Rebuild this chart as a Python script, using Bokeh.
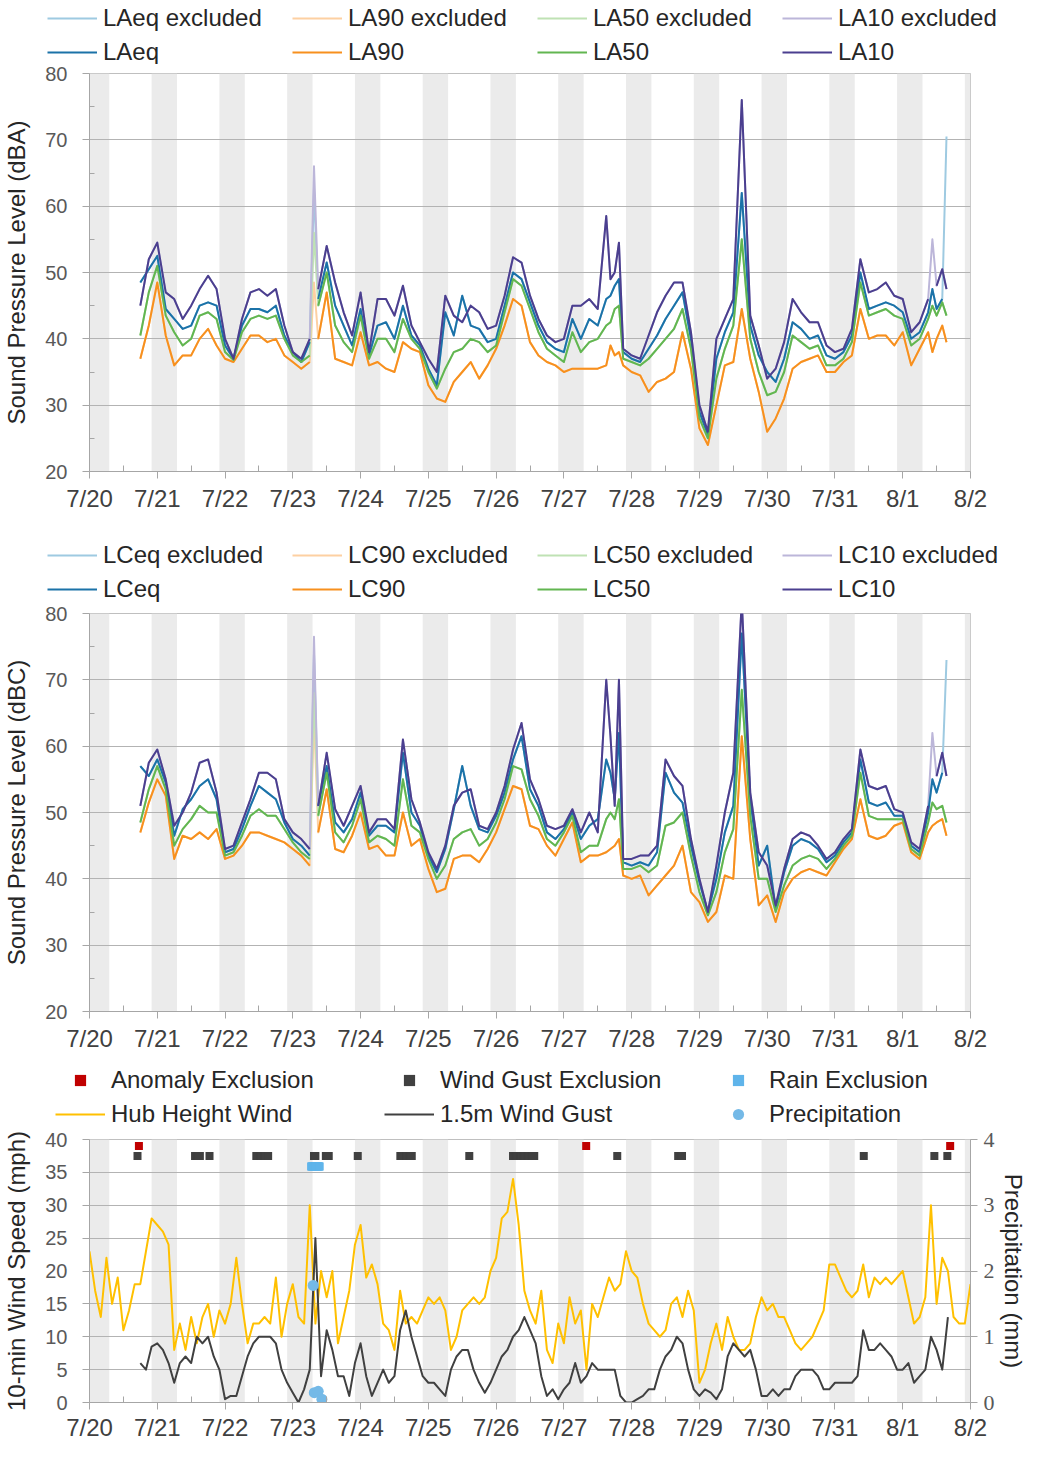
import numpy as np
from bokeh.plotting import figure
from bokeh.models import Range1d, LinearAxis, FixedTicker, Legend, LegendItem
from bokeh.layouts import column, row
from bokeh.embed import file_html
from bokeh.resources import INLINE

nan = float("nan")

# ---------------- time axis (hours since 7/20 00:00) ----------------
day_ticks = list(range(0, 313, 24))
day_labels = ["7/20", "7/21", "7/22", "7/23", "7/24", "7/25", "7/26",
              "7/27", "7/28", "7/29", "7/30", "7/31", "8/1", "8/2"]
night_start = [0, 22, 46, 70, 94, 118, 142, 166, 190, 214, 238, 262, 286, 310]
night_end = [7, 31, 55, 79, 103, 127, 151, 175, 199, 223, 247, 271, 295, 312]

# ---------------- sound level data ----------------
noise_hours = [18, 21,
               24, 27, 30, 33, 36, 39, 42, 45,
               48, 51, 54, 57, 60, 63, 66, 69,
               72, 75, 78, 79.5, 81, 84, 87, 90, 93,
               96, 99, 102, 105, 108, 111, 114, 117,
               120, 123, 126, 129, 132, 135, 138, 141,
               144, 147, 150, 153, 156, 159, 162, 165,
               168, 171, 174, 177, 180, 183, 184.5, 186, 187.5, 189,
               192, 195, 198, 201, 204, 207, 210, 213,
               216, 219, 222, 225, 228, 231, 234, 237,
               240, 243, 246, 249, 252, 255, 258, 261,
               264, 267, 270, 273, 276, 279, 282, 285,
               288, 291, 294, 297, 298.5, 300, 302, 303.5]

LAeq = [48.5, 50.5,
        52.5, 44.5, 43, 41.5, 42, 45, 45.5, 45,
        39, 37, 42, 44.5, 44.5, 44, 45, 40.5,
        38, 36.5, 39.5, 62.5, 46, 51.5, 45, 42, 39,
        44.5, 37.5, 42, 42.5, 40, 45, 40.5, 39,
        35.5, 33, 44, 40.5, 46.5, 42, 41.5, 39.5,
        40, 45, 50, 49, 45.5, 42, 39.5, 38.5,
        38, 43, 40, 43, 42, 46, 46.5, 48, 49, 38,
        37, 36.5, 38.5, 40.5, 43, 45, 47, 40,
        29, 25.5, 37, 41, 44, 62, 42, 37.5,
        35, 33.5, 37, 42.5, 41.5, 40, 40.5, 37.5,
        37, 38, 40.5, 50, 44.5, 45, 45.5, 45,
        44, 40, 41, 44, 47.5, 44.5, 46, 70.5]
LA90 = [37, 42,
        48.5, 40.5, 36, 37.5, 37.5, 40, 41.5, 39,
        37, 36.5, 38.5, 40.5, 40.5, 39.5, 40, 37.5,
        36.5, 35.5, 36.5, 48.5, 40, 47, 37, 36.5, 36,
        41, 36, 36.5, 35.5, 35, 39.5, 38.5, 38,
        33, 31, 30.5, 33.5, 35, 36.5, 34, 36,
        38.5, 42, 46, 45, 39.5, 37.5, 36.5, 36,
        35, 35.5, 35.5, 35.5, 35.5, 36, 39, 37.5, 38, 36,
        35, 34.5, 32, 33.5, 34, 35, 41, 35.5,
        26.5, 24, 30, 36, 36.5, 44.5, 37, 32,
        26, 28, 31, 35.5, 36.5, 37, 37.5, 35,
        35, 36.5, 37.5, 44.5, 40, 40.5, 40.5, 39,
        41, 36, 38.5, 41, 38, 40, 42, 39.5]
LA50 = [40.5, 47,
        51, 43.5, 41, 39, 40, 43.5, 44, 43,
        38, 36.8, 41, 43, 43.5, 43, 43.5, 40,
        37.5, 36.5, 37.5, 56, 45, 50, 42, 39.5, 38,
        43.5, 37, 40, 40, 38, 43, 40, 38.5,
        35, 32.5, 35.5, 38, 38.5, 40, 39.5, 38,
        39, 44, 49, 48, 44.5, 41, 38.5, 37.5,
        36.5, 41, 38, 39.5, 40, 42, 42.5, 44.5, 45, 37,
        36.5, 36, 37, 38.5, 40, 41.5, 44.5, 38.5,
        28, 25, 34, 38.5, 42, 55, 40, 35,
        31.5, 32, 35, 40.5, 39.5, 38.5, 39, 36,
        36, 37, 39.5, 48.5, 43.5, 44, 44.5, 43.5,
        43, 39, 40, 43, 45, 43.5, 45.5, 43.5]
LA10 = [45, 52,
        54.5, 47, 46, 43, 45, 47.5, 49.5, 47.5,
        40, 37, 43, 47, 47.5, 46.5, 47.5, 42,
        38, 37, 40, 66, 47.5, 54, 48.5, 44, 40.5,
        47, 38, 46, 46, 43.5, 48, 42, 39.5,
        37, 35, 46.5, 43.5, 42.5, 45, 44, 41.5,
        42, 46.5, 52.3, 51.5, 46.5, 43, 40.5, 39.5,
        40, 45, 45, 46, 44.5, 58.5, 49, 50, 54.5, 38.5,
        37.5, 37, 40.5, 44, 46.5, 48.5, 48.5, 41,
        30, 26, 40, 43, 46, 76, 43.5, 39,
        34, 35.5, 39.5, 46, 44, 42.5, 42.5, 39,
        38, 38.5, 41.5, 52, 47, 47.5, 48.5, 46.5,
        46, 41, 42.5, 46, 55, 48, 50.5, 47.5]

LCeq = [57, 55.5,
        58, 54.5, 46.5, 50.5, 52, 54, 55, 52,
        44, 44.5, 47.5, 51, 54, 53, 52, 48.5,
        46, 45, 43.5, 74, 51, 57, 48.5, 47, 49,
        53, 46.5, 48, 48, 47, 59, 50, 48,
        43.5, 41, 44.5, 50.5, 57, 51, 47.5, 47,
        49.5, 53, 58, 61.5, 53.5, 51, 47, 46,
        47.5, 50, 46, 48, 49, 58, 56, 52, 62, 42.5,
        42, 42.5, 42, 44, 56, 53, 51.5, 45,
        39.5, 35, 40, 47, 51, 77, 52, 42,
        45, 35.5, 41, 45, 46, 45.5, 44.5, 42.5,
        43.5, 45.5, 47, 58, 51.5, 51, 51.5, 49.5,
        49.5, 45, 44, 50, 55, 53, 56, 73]
LC90 = [47, 51.5,
        55, 52.5, 43, 46.5, 46, 47, 46, 47.5,
        43, 43.5, 45, 47, 47, 46.5, 46, 45.5,
        44.5, 43.5, 42, 64.5, 47, 53.5, 44.5, 44, 46.5,
        50, 44.5, 45, 43.5, 43.5, 50, 45, 46,
        41.5, 38, 38.5, 43, 43.5, 43.5, 42.5, 44.5,
        47, 50.5, 54, 53.5, 48, 47.5, 45, 43.5,
        46, 48.5, 42.5, 43.5, 43.5, 44, 44.5, 45, 46, 40.5,
        40, 40.5, 37.5, 39, 40.5, 42, 45, 38,
        36.5, 33.5, 35, 40.5, 40, 61.5, 46, 36,
        37.5, 33.5, 38, 40, 41, 41.5, 41, 40.5,
        42.5, 44.5, 46, 52, 46.5, 46, 46.5, 48,
        48.5, 44, 43, 47, 48, 48.5, 49, 46.5]
LC50 = [48.5, 53.5,
        57, 53.5, 45, 47.5, 49, 51, 50, 50,
        43.5, 44, 46.5, 49.5, 50.5, 49.5, 49.5, 47.5,
        45.5, 44, 43, 68, 49.5, 56, 47, 45.5, 48,
        52, 45.5, 46.5, 46, 45, 55, 48, 47,
        43, 40, 42, 46, 47, 47.5, 45, 46,
        48.5, 52, 57, 56.5, 52, 49.5, 46, 45,
        47, 49.5, 44, 45, 45, 49, 50, 49, 52, 41.5,
        41.5, 42, 41, 42, 48, 48.5, 50, 43.5,
        38, 34.5, 38, 44, 47.5, 68.5, 49.5, 40,
        40, 35, 39, 42, 43, 43.5, 43, 41.5,
        43, 45, 46.5, 56, 49.5, 49, 49, 49,
        49, 44.5, 43.5, 48.5, 51.5, 50.5, 51, 48.5]
LC10 = [51, 57.5,
        59.5, 55, 48, 50, 53, 57.5, 58, 53,
        44.5, 45, 48.5, 52, 56, 56, 55, 49,
        47, 46, 44.5, 76.5, 51, 59, 50.5, 48, 51,
        54, 47, 49, 49, 47.5, 61, 52, 48.5,
        44, 41.5, 45, 51, 53, 53.5, 48, 47.5,
        50, 54, 59.5, 63.5, 55, 52, 48, 47.5,
        48, 50.5, 47, 50, 47, 70, 61.5, 51, 70, 43,
        43, 43.5, 43.5, 45, 58, 55.5, 54, 46,
        40, 35, 42, 50, 56, 82, 53, 44,
        42, 36, 41.5, 46, 47, 46.5, 45, 43,
        44, 46, 47.5, 59.5, 54, 53.5, 54, 50.5,
        50, 45.5, 44.5, 51, 62, 55.5, 59, 55.5]

# hours whose values were excluded (drawn only in the light colour)
excl_A = {"LAeq": [79.5, 303.5], "LA90": [79.5], "LA50": [79.5], "LA10": [79.5, 298.5]}
excl_C = {"LCeq": [79.5, 303.5], "LC90": [79.5], "LC50": [79.5], "LC10": [79.5, 298.5]}

# ---------------- wind / precipitation data ----------------
wind_hours = list(range(0, 313, 2))
hub_wind = [23, 17, 13, 22, 15, 19, 11, 14, 18, 18, 23, 28,
            27, 26, 24, 8, 12, 8, 13, 9, 13, 15, 10, 14,
            12, 15, 22, 15, 9, 12, 12, 13, 12, 19, 10, 15,
            18, 13, 12, 30, 12, 20, 16, 20, 9, 13, 17, 24,
            27, 19, 21, 18, 12, 11, 8, 17, 12, 13, 12, 14,
            16, 15, 16, 14, 8, 10, 14, 15, 16, 15, 16, 20,
            22, 28, 29, 34, 27, 17, 14, 12, 17, 8, 6, 12,
            9, 16, 12, 14, 5, 15, 13, 16, 19, 17, 18, 23,
            20, 19, 15, 12, 11, 10, 11, 15, 16, 13, 17, 14,
            3, 5, 9, 12, 8, 13, 10, 8, 8, 9, 13, 16,
            14, 15, 13, 13, 11, 9, 8, 9, 10, 12, 14, 21,
            21, 19, 17, 16, 17, 21, 16, 19, 18, 19, 18, 19,
            20, 16, 12, 13, 16, 30, 15, 22, 20, 13, 12, 12,
            18]
gust_15m = [nan, nan, nan, nan, nan, nan, nan, nan, nan, 6, 5, 8.5,
            9, 8, 6, 3, 6, 7, 6, 10, 9, 10, 7, 5,
            0.5, 1, 1, 4, 7, 9, 10, 10, 10, 9, 5, 3,
            1.5, 0, 2, 5, 25, 4, 11, 8, 4, 4, 1, 6,
            9, 4, 1, 3, 5, 3, 4, 11, 14, 10, 7, 4,
            3, 3, 2, 1, 5, 7, 8, 8, 5, 3, 1.5, 3,
            5, 7, 8, 10, 11, 13, 11, 9, 4, 1, 2, 0.5,
            2, 3, 6, 3, 4, 6, 5, 5, 5, 5, 1, 0,
            0, 0.5, 1, 2, 2, 5, 7, 8, 10, 9, 5, 2,
            1, 2, 1.5, 0.5, 2, 7, 9, 8, 7, 8, 5, 1,
            1, 2, 1, 2, 2, 4, 5, 5, 5, 4, 2, 2,
            3, 3, 3, 3, 4, 11, 8, 8, 9, 8, 7, 5,
            5, 6, 3, 4, 5, 10, 8, 5, 13, nan, nan, nan,
            nan]
# excluded 10-min runs (start / end hour of each excluded run)
gust_excl_start = [17, 37.4, 42.5, 59.1, 79.5, 83.7, 95, 110.1, 134.5, 150, 186.9, 208.5, 274.2, 299.2, 303.8]
gust_excl_end = [17, 39.2, 42.5, 63.4, 80, 84.8, 95, 114.2, 134.5, 157.5, 186.9, 209.9, 274.2, 299.2, 303.8]
anomaly_start = [17.5, 175.9, 304.8]
anomaly_end = [17.5, 175.9, 304.8]
rain_excl_start = [78.5]
rain_excl_end = [81.5]
precip_hours = [79.2, 79.6, 81.0, 82.3]
precip_mm = [1.78, 0.15, 0.17, 0.05]

assert len(noise_hours) == len(LAeq) == len(LA90) == len(LA50) == len(LA10)
assert len(noise_hours) == len(LCeq) == len(LC90) == len(LC50) == len(LC10)
assert len(wind_hours) == len(hub_wind) == len(gust_15m)

# ---------------- styling helpers ----------------
FONT = "Liberation Sans"
BAND = "#ebebeb"
GRID = "#b3b3b3"
AXIS = "#a6a6a6"
WIDTH = 1032
DARK = ["#1b72a8", "#f7901e", "#62b651", "#4b3f8f"]
LIGHT = ["#9ecae1", "#fdd0a2", "#bfe2b4", "#bcb6d9"]


def make_fig(height, top, bottom, y0, y1):
    p = figure(width=WIDTH, height=height, x_range=Range1d(0, 312), y_range=Range1d(y0, y1),
               output_backend="svg", toolbar_location=None,
               min_border_left=82, min_border_right=62, min_border_top=top, min_border_bottom=bottom)
    p.outline_line_color = "#bfbfbf"
    p.outline_line_width = 1
    p.xgrid.visible = False
    p.quad(left=night_start, right=night_end, bottom=y0, top=y1,
           fill_color=BAND, line_color=None, level="image")
    return p


def style_axes(p, ylabel, yticks, yminor, xstand=6):
    xa = p.xaxis[0]
    xa.ticker = FixedTicker(ticks=day_ticks, minor_ticks=[t + 12 for t in day_ticks[:-1]])
    xa.major_label_overrides = {t: l for t, l in zip(day_ticks, day_labels)}
    xa.axis_line_color = AXIS
    xa.major_tick_line_color = AXIS
    xa.minor_tick_line_color = AXIS
    xa.major_tick_in = 0
    xa.major_tick_out = 7
    xa.minor_tick_in = 6
    xa.minor_tick_out = 0
    xa.major_label_text_font = FONT
    xa.major_label_text_font_size = "24px"
    xa.major_label_text_color = "#404040"
    xa.major_label_standoff = xstand

    ya = p.yaxis[0]
    ya.ticker = FixedTicker(ticks=yticks, minor_ticks=yminor)
    p.ygrid.ticker = FixedTicker(ticks=yticks)
    p.ygrid.grid_line_color = GRID
    ya.axis_line_color = AXIS
    ya.major_tick_line_color = AXIS
    ya.minor_tick_line_color = AXIS
    ya.major_tick_in = 0
    ya.major_tick_out = 7
    ya.minor_tick_in = 5
    ya.minor_tick_out = 0
    ya.major_label_text_font = FONT
    ya.major_label_text_font_size = "20px"
    ya.major_label_text_color = "#595959"
    ya.major_label_standoff = 15
    ya.axis_label = ylabel
    ya.axis_label_text_font = FONT
    ya.axis_label_text_font_size = "24px"
    ya.axis_label_text_font_style = "normal"
    ya.axis_label_text_color = "#262626"
    ya.axis_label_standoff = 12


def legend_fig(height, entries, ncols, label_width, vx, vy):
    """A strip holding only a legend (entries: label, kind, colour)."""
    f = figure(width=WIDTH, height=height, x_range=Range1d(0, 1), y_range=Range1d(0, 1),
               x_axis_type=None, y_axis_type=None, output_backend="svg", toolbar_location=None,
               min_border=0, min_border_left=0, min_border_right=0,
               min_border_top=0, min_border_bottom=0)
    f.outline_line_color = None
    f.xgrid.visible = False
    f.ygrid.visible = False
    items = []
    # legend-sample renderers: one point each, placed outside the visible range
    for label, kind, colour in entries:
        if kind == "line":
            r = f.line([-5, -4], [-5, -5], line_color=colour, line_width=2)
        elif kind == "square":
            r = f.scatter([-5], [-5], marker="square", size=8, fill_color=colour, line_color=None)
        else:
            r = f.scatter([-5], [-5], marker="circle", size=11, fill_color=colour, line_color=None)
        items.append(LegendItem(label=label, renderers=[r]))
    leg = Legend(items=items, location=(vx, vy), orientation="horizontal", ncols=ncols,
                 glyph_width=50, glyph_height=28, label_width=label_width, label_height=28,
                 spacing=6, label_standoff=6, padding=0, margin=0,
                 border_line_color=None, background_fill_alpha=0,
                 label_text_font=FONT, label_text_font_size="24px", label_text_color="#262626")
    f.add_layout(leg)
    return f


def noise_panel(height, top, bottom, names, series, excl, ylabel):
    p = make_fig(height, top, bottom, 20, 80)
    style_axes(p, ylabel, list(range(20, 81, 10)), list(range(25, 80, 10)))
    hrs = np.array(noise_hours, dtype=float)
    for vals, lc in zip(series, LIGHT):
        p.line(hrs, np.array(vals, dtype=float), line_color=lc, line_width=2, line_join="round")
    for name, vals, dc in zip(names, series, DARK):
        arr = np.array(vals, dtype=float)
        arr[np.isin(hrs, excl[name])] = np.nan
        p.line(hrs, arr, line_color=dc, line_width=2, line_join="round")
    return p


def noise_legend(height, names, vy):
    entries = [(n + " excluded", "line", c) for n, c in zip(names, LIGHT)]
    entries += [(n, "line", c) for n, c in zip(names, DARK)]
    return legend_fig(height, entries, 4, 183, 47, vy)


namesA = ["LAeq", "LA90", "LA50", "LA10"]
namesC = ["LCeq", "LC90", "LC50", "LC10"]
leg1 = noise_legend(64, namesA, -2)
p1 = noise_panel(474, 9, 67, namesA, [LAeq, LA90, LA50, LA10], excl_A, "Sound Pressure Level (dBA)")
leg2 = noise_legend(65, namesC, 0)
p2 = noise_panel(460, 10, 52, namesC, [LCeq, LC90, LC50, LC10], excl_C, "Sound Pressure Level (dBC)")

# ---------------- wind panel ----------------
p3 = make_fig(315, 11, 38, 0, 40)
style_axes(p3, "10-min Wind Speed (mph)", list(range(0, 41, 5)), [], xstand=4)
p3.yaxis[0].minor_tick_line_color = None
p3.extra_y_ranges = {"precip": Range1d(0, 4)}
ra = LinearAxis(y_range_name="precip", axis_label="Precipitation (mm)")
ra.ticker = FixedTicker(ticks=[0, 1, 2, 3, 4])
ra.axis_line_color = AXIS
ra.major_tick_line_color = AXIS
ra.major_tick_in = 0
ra.major_tick_out = 7
ra.minor_tick_line_color = None
ra.major_label_text_font = "Liberation Serif"
ra.major_label_text_font_size = "22px"
ra.major_label_text_color = "#595959"
ra.major_label_standoff = 6
ra.axis_label_text_font = FONT
ra.axis_label_text_font_size = "24px"
ra.axis_label_text_font_style = "normal"
ra.axis_label_text_color = "#262626"
ra.axis_label_standoff = 2
p3.add_layout(ra, "right")

p3.line(wind_hours, hub_wind, line_color="#ffc000", line_width=2, line_join="round")
p3.line(wind_hours, np.array(gust_15m, dtype=float), line_color="#404040", line_width=2,
        line_join="round")


def run_points(starts, ends):
    """10-minute marker positions covering each excluded run."""
    pts = []
    for s, e in zip(starts, ends):
        pts.extend(np.arange(s, e + 1e-6, 1 / 6).tolist())
    return pts


gx = run_points(gust_excl_start, gust_excl_end)
ax_ = run_points(anomaly_start, anomaly_end)
rx = run_points(rain_excl_start, rain_excl_end)
p3.scatter(ax_, [39.0] * len(ax_), marker="square", size=8, fill_color="#c00000", line_color=None)
p3.scatter(gx, [37.5] * len(gx), marker="square", size=8, fill_color="#404040", line_color=None)
p3.scatter(rx, [35.9] * len(rx), marker="square", size=8, fill_color="#5fb4ea", line_color=None)
p3.scatter(precip_hours, precip_mm, y_range_name="precip", marker="circle", size=11,
           fill_color="#74b9e7", line_color=None)

leg3 = legend_fig(65, [("Anomaly Exclusion", "square", "#c00000"),
                       ("Wind Gust Exclusion", "square", "#404040"),
                       ("Rain Exclusion", "square", "#5fb4ea"),
                       ("Hub Height Wind", "line", "#ffc000"),
                       ("1.5m Wind Gust", "line", "#404040"),
                       ("Precipitation", "circle", "#74b9e7")], 3, 267, 55, 0)

layout = column(row(leg1), p1, row(leg2), p2, row(leg3), p3, spacing=0)
open("out.html", "w").write(file_html(layout, INLINE))
